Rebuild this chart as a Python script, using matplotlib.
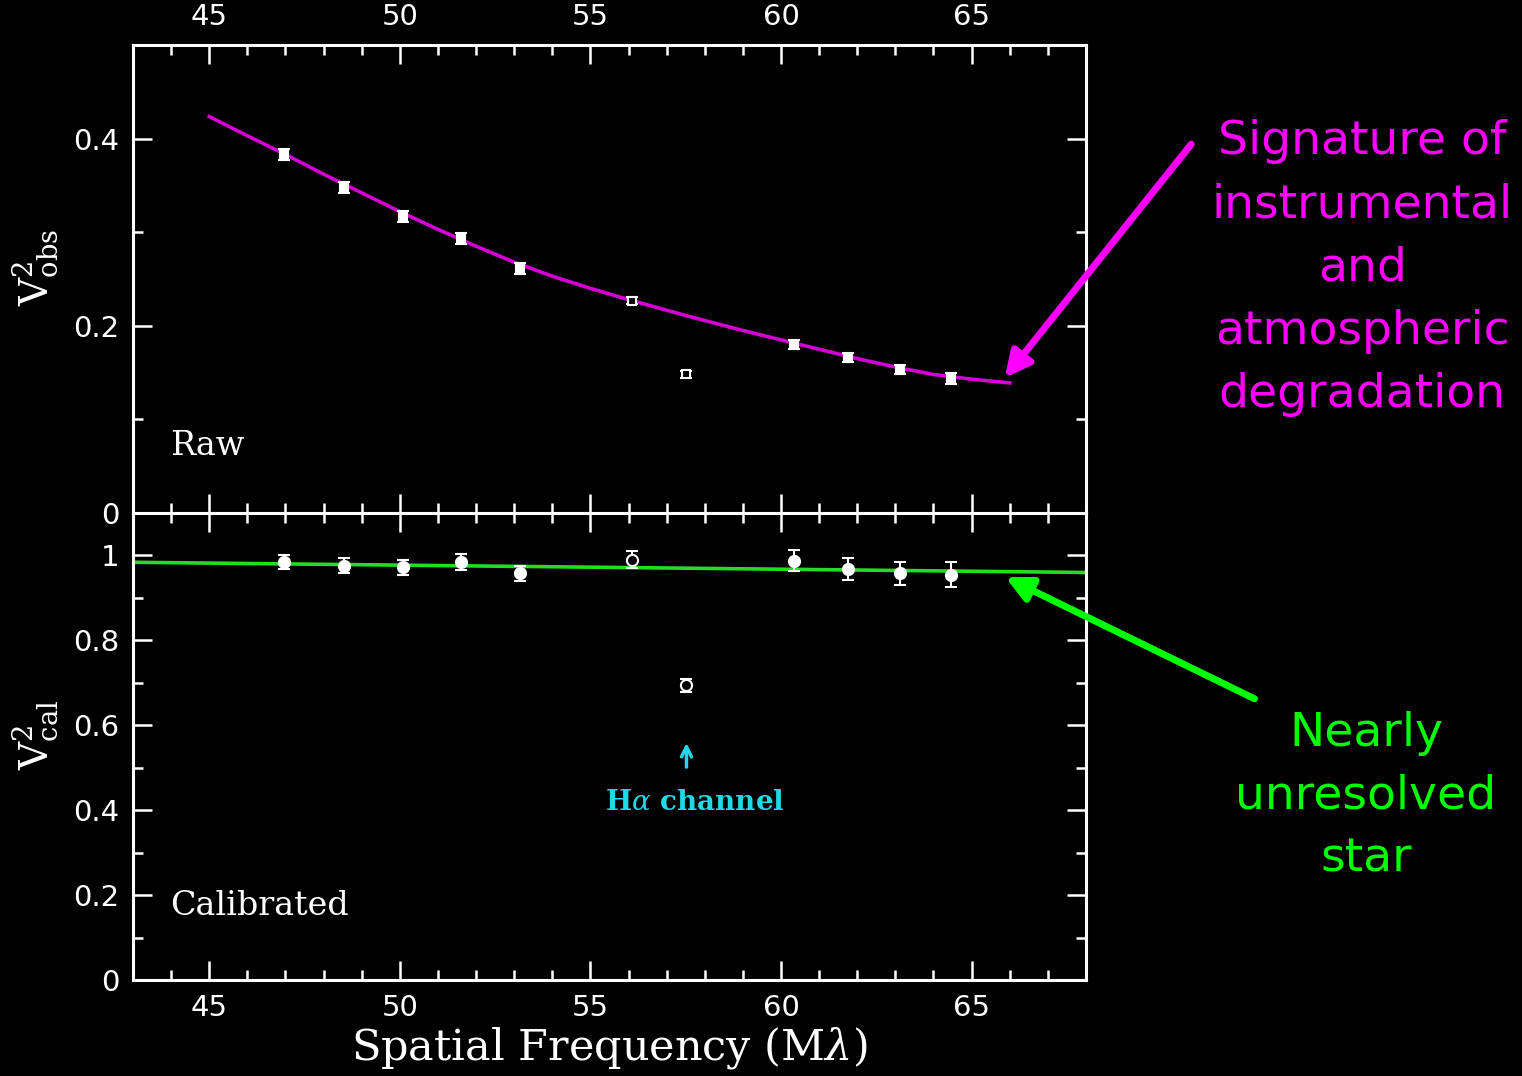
import matplotlib
matplotlib.use("Agg")
import matplotlib.pyplot as plt
from matplotlib.ticker import MultipleLocator, FuncFormatter

# Spatial frequency of each spectral channel (Mlambda)
freq = [46.97, 48.54, 50.07, 51.61, 53.14, 56.08, 57.52, 60.35, 61.75, 63.11, 64.45]

# Raw squared visibilities and errors
v2_obs = [0.383, 0.348, 0.317, 0.293, 0.261, 0.227, 0.148, 0.180, 0.166, 0.153, 0.144]
v2_obs_err = [0.006, 0.006, 0.006, 0.006, 0.006, 0.004, 0.004, 0.005, 0.005, 0.005, 0.006]

# Calibrated squared visibilities and errors
v2_cal = [0.984, 0.976, 0.972, 0.984, 0.958, 0.990, 0.694, 0.988, 0.969, 0.958, 0.955]
v2_cal_err = [0.017, 0.017, 0.018, 0.019, 0.018, 0.020, 0.015, 0.025, 0.026, 0.027, 0.030]

# channels drawn with open symbols
open_channels = [5, 6]

# model curve through the raw data
fit_freq = [45.0, 46.0, 47.0, 48.0, 49.0, 50.0, 51.0, 52.0, 53.0, 54.0, 55.0,
            56.0, 57.5, 59.0, 60.0, 61.0, 62.0, 63.0, 64.0, 65.0, 66.0]
fit_obs = [0.4235, 0.403, 0.383, 0.362, 0.342, 0.322, 0.303, 0.285, 0.268, 0.253, 0.240,
           0.228, 0.211, 0.195, 0.185, 0.175, 0.165, 0.156, 0.148, 0.143, 0.139]

# calibrated model line
cal_freq = [43.0, 68.0]
cal_fit = [0.984, 0.960]

white = "white"
serif = "DejaVu Serif"
plt.rcParams["mathtext.fontset"] = "dejavuserif"

fig = plt.figure(figsize=(15.22, 10.76), dpi=100, facecolor="black")
ax1 = fig.add_axes([0.0874, 0.5232, 0.6261, 0.4350])
ax2 = fig.add_axes([0.0874, 0.0892, 0.6261, 0.4340])

for ax in (ax1, ax2):
    ax.set_facecolor("black")
    ax.set_xlim(43, 68)
    for s in ax.spines.values():
        s.set_color(white)
        s.set_linewidth(2.2)
    ax.xaxis.set_major_locator(MultipleLocator(5))
    ax.xaxis.set_minor_locator(MultipleLocator(1))
    ax.yaxis.set_major_locator(MultipleLocator(0.2))
    ax.yaxis.set_minor_locator(MultipleLocator(0.1))
    ax.tick_params(which="both", direction="in", colors=white, width=1.8,
                   top=True, right=True, labelsize=21, pad=10)
    ax.tick_params(which="major", length=14)
    ax.tick_params(which="minor", length=7)
    ax.yaxis.set_major_formatter(FuncFormatter(lambda v, p: "%g" % round(v, 2)))
    for lab in ax.get_xticklabels() + ax.get_yticklabels():
        lab.set_fontweight("medium")

ax1.set_ylim(0, 0.5)
ax2.set_ylim(0, 1.1)
ax1.tick_params(axis="x", labeltop=True, labelbottom=False)
ax2.tick_params(axis="x", labeltop=False, labelbottom=True)

# raw panel
ax1.plot(fit_freq, fit_obs, color="#d400d4", lw=2.6, zorder=2)
for i, (f, v, e) in enumerate(zip(freq, v2_obs, v2_obs_err)):
    face = "black" if i in open_channels else white
    ax1.errorbar(f, v, yerr=e, fmt="s", ms=6, mfc=face, mec=white, mew=1.5,
                 ecolor=white, elinewidth=1.5, capsize=4, capthick=1.5, zorder=3)

# calibrated panel
ax2.plot(cal_freq, cal_fit, color="#22dd22", lw=2.6, zorder=2)
for i, (f, v, e) in enumerate(zip(freq, v2_cal, v2_cal_err)):
    face = "black" if i in open_channels else white
    ax2.errorbar(f, v, yerr=e, fmt="o", ms=8, mfc=face, mec=white, mew=1.5,
                 ecolor=white, elinewidth=1.5, capsize=4, capthick=1.5, zorder=3)

ax1.text(43.97, 0.072, "Raw", color=white, fontsize=24, family=serif, va="center")
ax2.text(43.97, 0.174, "Calibrated", color=white, fontsize=24, family=serif, va="center")

# H-alpha marker
ax2.annotate("", xy=(57.52, 0.565), xytext=(57.52, 0.495),
             arrowprops=dict(arrowstyle="->", color="#22d8e6", lw=2.5, mutation_scale=18))
ax2.text(57.75, 0.419, r"H$\alpha$ channel", color="#22d8e6", fontsize=20,
         family=serif, fontweight="bold", ha="center", va="center")

ax2.set_xlabel(r"Spatial Frequency (M$\lambda$)", color=white, fontsize=31,
               family=serif, labelpad=2)

fig.text(0.023, 0.751, r"V$^2_{\rm obs}$", color=white, fontsize=28, family=serif,
         rotation=90, ha="center", va="center")
fig.text(0.023, 0.317, r"V$^2_{\rm cal}$", color=white, fontsize=28, family=serif,
         rotation=90, ha="center", va="center")

# annotations on the right
fig.text(0.895, 0.751, "Signature of\ninstrumental\nand\natmospheric\ndegradation",
         color="#ff00ff", fontsize=34, family="DejaVu Sans", ha="center", va="center",
         linespacing=1.52)
fig.text(0.8975, 0.260, "Nearly\nunresolved\nstar", color="#00ff00", fontsize=34,
         family="DejaVu Sans", ha="center", va="center", linespacing=1.52)

fig.patches.append(matplotlib.patches.FancyArrowPatch(
    (1193 / 1522, 1 - 142 / 1076), (1003 / 1522, 1 - 380 / 1076),
    transform=fig.transFigure, arrowstyle="-|>", mutation_scale=38,
    color="#ff00ff", lw=5))
fig.patches.append(matplotlib.patches.FancyArrowPatch(
    (1257 / 1522, 1 - 700 / 1076), (1003 / 1522, 1 - 576 / 1076),
    transform=fig.transFigure, arrowstyle="-|>", mutation_scale=38,
    color="#00ff00", lw=5))

fig.savefig("out.png", dpi=100, facecolor="black")
